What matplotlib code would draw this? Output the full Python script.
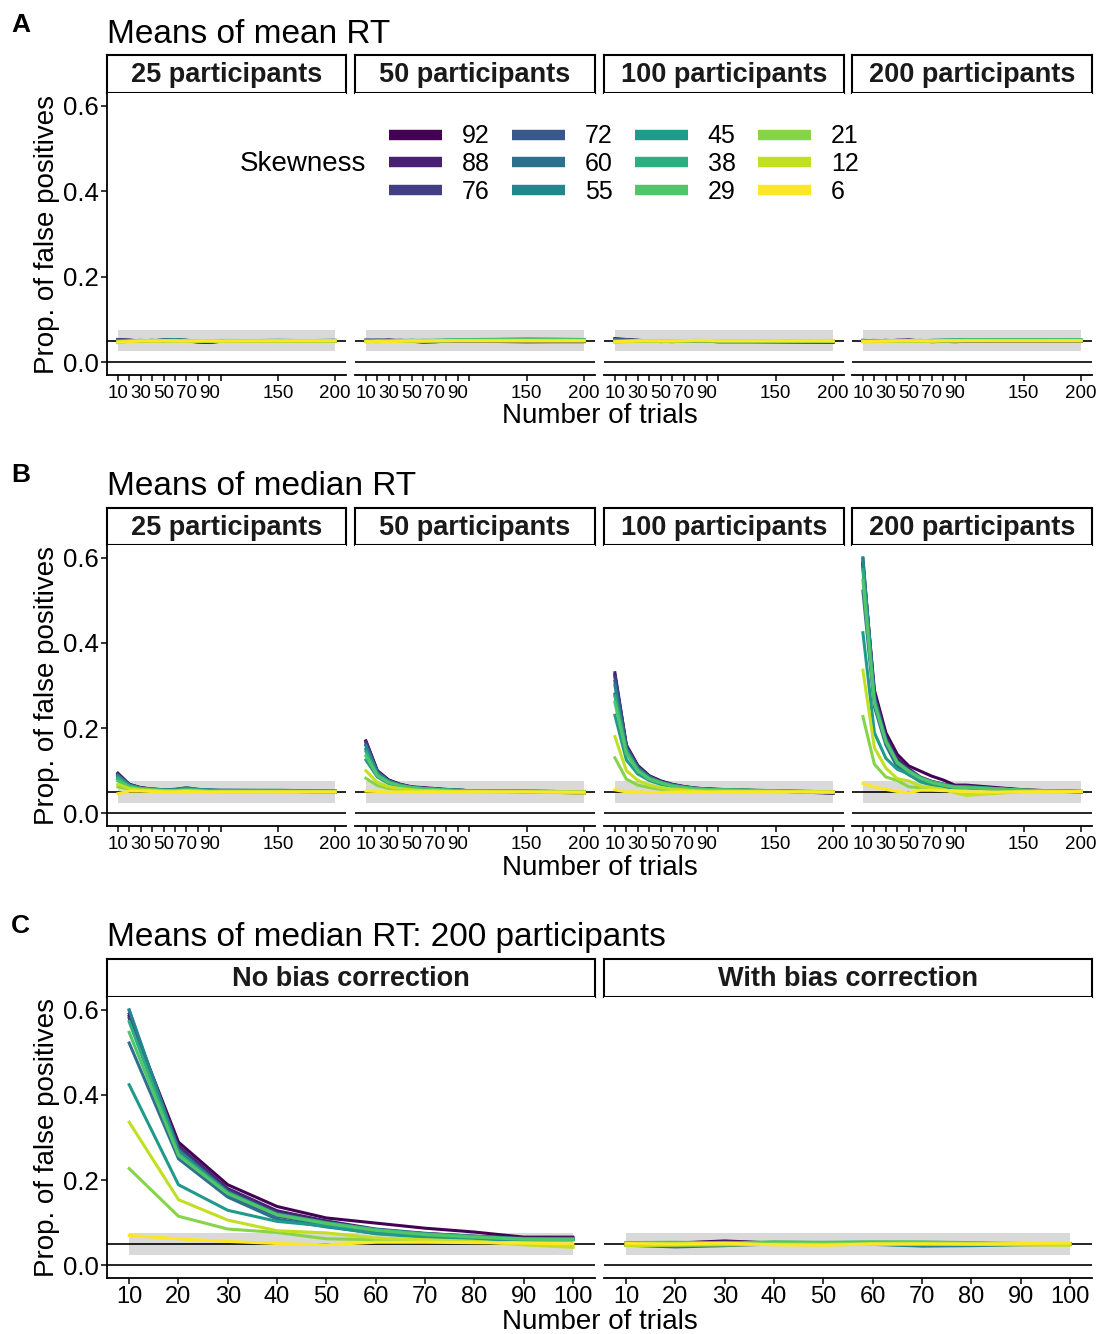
import numpy as np
import matplotlib.pyplot as plt
from matplotlib.lines import Line2D
from matplotlib.patches import Rectangle

plt.rcParams['font.family'] = ['Liberation Sans', 'DejaVu Sans']

W, H = 1101, 1334

skewness = [92, 88, 76, 72, 60, 55, 45, 38, 29, 21, 12, 6]
trials = [10, 20, 30, 40, 50, 60, 70, 80, 90, 100, 150, 200]
trials_c = [10, 20, 30, 40, 50, 60, 70, 80, 90, 100]
participants = [25, 50, 100, 200]

# A: means of mean RT, one row per skewness level
mean_25 = [
    [.053, .051, .049, .050, .052, .052, .050, .047, .046, .049, .050, .050],
    [.052, .050, .050, .049, .051, .052, .051, .048, .047, .049, .050, .050],
    [.053, .052, .049, .050, .051, .052, .050, .049, .048, .050, .050, .051],
    [.050, .051, .050, .051, .050, .053, .051, .049, .049, .050, .050, .050],
    [.049, .050, .051, .050, .052, .052, .050, .050, .049, .050, .051, .050],
    [.051, .050, .049, .050, .051, .053, .051, .049, .048, .049, .050, .051],
    [.050, .049, .050, .051, .050, .052, .051, .050, .050, .050, .051, .050],
    [.048, .050, .051, .050, .051, .051, .050, .050, .050, .050, .050, .051],
    [.049, .050, .050, .051, .050, .050, .051, .050, .050, .051, .050, .050],
    [.046, .049, .050, .050, .049, .050, .050, .050, .049, .050, .050, .049],
    [.047, .049, .049, .050, .050, .049, .050, .049, .050, .050, .049, .050],
    [.047, .048, .050, .049, .050, .050, .049, .050, .050, .049, .050, .050],
]
mean_50 = [
    [.050, .051, .052, .050, .049, .047, .048, .049, .050, .049, .048, .048],
    [.051, .050, .051, .050, .049, .048, .048, .049, .049, .049, .048, .049],
    [.050, .050, .051, .051, .050, .048, .049, .049, .050, .049, .049, .049],
    [.052, .051, .050, .051, .050, .049, .049, .050, .050, .050, .050, .050],
    [.051, .052, .050, .050, .051, .050, .049, .050, .051, .051, .052, .051],
    [.050, .051, .051, .050, .050, .050, .050, .051, .051, .052, .053, .052],
    [.049, .050, .050, .051, .051, .050, .051, .051, .052, .052, .054, .053],
    [.050, .049, .050, .050, .051, .051, .051, .052, .052, .053, .054, .053],
    [.049, .050, .049, .050, .050, .051, .051, .051, .052, .052, .053, .052],
    [.048, .049, .050, .049, .050, .050, .050, .050, .051, .051, .051, .051],
    [.049, .048, .049, .050, .049, .050, .050, .050, .050, .050, .050, .050],
    [.048, .049, .048, .049, .050, .049, .050, .050, .050, .050, .050, .050],
]
mean_100 = [
    [.055, .053, .051, .050, .049, .050, .050, .049, .049, .048, .048, .047],
    [.054, .052, .051, .050, .050, .049, .050, .049, .049, .048, .048, .047],
    [.053, .052, .050, .050, .049, .050, .049, .049, .049, .049, .048, .048],
    [.052, .051, .051, .049, .050, .049, .049, .050, .049, .049, .048, .048],
    [.051, .052, .050, .050, .049, .048, .050, .050, .049, .049, .049, .048],
    [.052, .050, .051, .049, .050, .049, .049, .050, .050, .049, .049, .049],
    [.050, .051, .050, .050, .048, .050, .049, .050, .050, .050, .049, .049],
    [.051, .050, .049, .050, .049, .049, .050, .051, .050, .050, .049, .049],
    [.049, .050, .050, .049, .050, .049, .050, .050, .050, .050, .050, .049],
    [.048, .049, .050, .049, .049, .050, .050, .050, .050, .050, .050, .050],
    [.047, .048, .049, .050, .049, .049, .050, .050, .050, .050, .050, .050],
    [.048, .049, .050, .050, .050, .050, .050, .051, .051, .050, .050, .050],
]
mean_200 = [
    [.050, .049, .050, .051, .052, .050, .048, .049, .048, .049, .049, .049],
    [.051, .050, .050, .051, .051, .050, .049, .049, .049, .049, .049, .049],
    [.050, .050, .051, .050, .051, .050, .049, .050, .049, .049, .050, .049],
    [.049, .050, .050, .051, .050, .051, .049, .049, .050, .050, .050, .050],
    [.050, .051, .049, .050, .051, .050, .050, .050, .050, .051, .051, .050],
    [.051, .050, .050, .049, .050, .050, .050, .051, .051, .052, .052, .051],
    [.050, .050, .051, .050, .049, .050, .051, .051, .052, .052, .053, .052],
    [.049, .050, .050, .050, .050, .049, .051, .052, .052, .053, .053, .052],
    [.050, .049, .050, .049, .050, .050, .050, .051, .051, .052, .052, .052],
    [.048, .049, .049, .050, .049, .050, .050, .050, .050, .051, .051, .051],
    [.049, .048, .050, .049, .050, .049, .050, .050, .050, .050, .050, .050],
    [.048, .049, .049, .050, .050, .050, .049, .050, .050, .050, .050, .050],
]

# B: means of median RT
median_25 = [
    [.094, .068, .060, .057, .055, .054, .056, .054, .053, .053, .052, .049],
    [.092, .067, .060, .056, .055, .055, .057, .055, .053, .053, .052, .050],
    [.090, .066, .059, .056, .054, .055, .058, .055, .054, .052, .052, .049],
    [.088, .066, .059, .056, .055, .056, .059, .056, .054, .053, .053, .050],
    [.086, .065, .058, .056, .055, .056, .060, .056, .055, .054, .053, .051],
    [.089, .066, .059, .057, .055, .055, .058, .056, .054, .054, .054, .052],
    [.080, .063, .058, .055, .054, .054, .057, .055, .054, .053, .053, .052],
    [.083, .064, .058, .056, .054, .053, .056, .054, .053, .053, .052, .052],
    [.076, .062, .057, .055, .053, .053, .055, .054, .052, .052, .052, .051],
    [.062, .057, .054, .053, .052, .051, .053, .052, .051, .051, .051, .050],
    [.068, .058, .055, .054, .052, .052, .053, .052, .051, .050, .050, .050],
    [.046, .052, .052, .051, .050, .050, .051, .050, .049, .050, .050, .050],
]
median_50 = [
    [.170, .100, .078, .068, .062, .060, .058, .056, .054, .053, .050, .048],
    [.168, .098, .077, .067, .061, .059, .057, .055, .054, .053, .050, .048],
    [.165, .097, .076, .067, .061, .059, .057, .055, .054, .053, .051, .049],
    [.160, .095, .075, .066, .061, .058, .056, .055, .054, .053, .051, .049],
    [.150, .092, .074, .066, .060, .058, .056, .055, .054, .053, .051, .050],
    [.158, .095, .075, .066, .061, .058, .057, .055, .054, .053, .052, .050],
    [.125, .085, .070, .063, .059, .057, .055, .054, .053, .053, .052, .050],
    [.145, .090, .073, .065, .060, .058, .056, .055, .054, .053, .052, .050],
    [.135, .088, .072, .064, .060, .057, .056, .054, .053, .053, .052, .050],
    [.082, .065, .058, .055, .053, .052, .052, .051, .051, .051, .050, .049],
    [.100, .072, .062, .058, .055, .053, .053, .052, .051, .051, .050, .047],
    [.052, .051, .050, .050, .050, .050, .050, .050, .050, .050, .050, .050],
]
median_100 = [
    [.325, .160, .112, .088, .076, .068, .063, .059, .057, .056, .052, .047],
    [.330, .158, .110, .087, .075, .067, .062, .059, .057, .056, .052, .048],
    [.320, .156, .108, .086, .074, .067, .062, .058, .057, .055, .052, .048],
    [.310, .152, .106, .085, .073, .066, .062, .058, .056, .055, .052, .048],
    [.280, .145, .102, .082, .072, .065, .061, .058, .056, .055, .052, .049],
    [.300, .150, .105, .084, .073, .066, .061, .058, .056, .055, .053, .049],
    [.230, .125, .092, .077, .068, .062, .059, .057, .055, .054, .052, .050],
    [.275, .145, .102, .082, .072, .065, .061, .058, .056, .055, .053, .050],
    [.260, .140, .099, .080, .071, .064, .060, .057, .056, .055, .053, .050],
    [.130, .080, .066, .060, .056, .054, .053, .052, .051, .051, .051, .050],
    [.180, .100, .077, .066, .060, .057, .055, .053, .052, .052, .051, .049],
    [.055, .050, .050, .049, .049, .050, .050, .050, .049, .050, .050, .050],
]
median_200 = [
    [.585, .289, .189, .138, .111, .099, .087, .078, .066, .066, .055, .050],
    [.590, .280, .180, .128, .104, .085, .075, .068, .064, .064, .054, .050],
    [.580, .275, .175, .122, .100, .082, .074, .068, .063, .062, .054, .051],
    [.598, .265, .165, .115, .095, .078, .070, .064, .061, .061, .054, .051],
    [.522, .250, .160, .108, .090, .075, .068, .062, .060, .060, .053, .051],
    [.600, .270, .172, .118, .096, .080, .072, .066, .062, .061, .054, .050],
    [.424, .189, .129, .103, .092, .074, .066, .062, .060, .060, .053, .051],
    [.572, .262, .170, .120, .100, .084, .074, .068, .062, .062, .054, .051],
    [.547, .258, .168, .118, .098, .082, .072, .066, .061, .060, .054, .052],
    [.227, .115, .085, .077, .062, .060, .058, .056, .050, .044, .052, .051],
    [.336, .154, .106, .081, .076, .064, .060, .056, .048, .042, .051, .050],
    [.070, .062, .056, .051, .048, .054, .054, .053, .052, .050, .050, .051],
]

# C: 200 participants, with bias correction
corrected_200 = [
    [.050, .052, .057, .052, .051, .052, .050, .050, .049, .050],
    [.051, .051, .055, .052, .052, .051, .050, .050, .050, .050],
    [.050, .052, .054, .053, .051, .051, .051, .050, .050, .050],
    [.052, .050, .053, .052, .053, .052, .050, .051, .050, .050],
    [.047, .043, .046, .050, .051, .050, .046, .047, .049, .050],
    [.048, .045, .048, .051, .050, .049, .045, .046, .048, .049],
    [.051, .052, .050, .053, .052, .053, .052, .051, .050, .050],
    [.052, .053, .051, .054, .053, .054, .053, .052, .050, .051],
    [.053, .054, .052, .055, .054, .055, .055, .053, .051, .051],
    [.049, .050, .049, .050, .050, .051, .052, .051, .050, .049],
    [.046, .047, .048, .049, .048, .049, .050, .049, .048, .047],
    [.051, .050, .052, .048, .047, .050, .050, .050, .051, .052],
]

colors = plt.cm.viridis(np.linspace(0, 1, len(skewness)))

fig = plt.figure(figsize=(W / 100, H / 100), dpi=100)


def box(x0, y0, x1, y1):
    # pixel box, origin top-left
    return fig.add_axes([x0 / W, 1 - y1 / H, (x1 - x0) / W, (y1 - y0) / H])


def facet(x0, x1, strip_top, strip_bot, bottom, label, xs, series, xlim,
          xticks, xlabels, xtick_size, xpad, first):
    st = box(x0, strip_top, x1, strip_bot)
    st.set_xticks([])
    st.set_yticks([])
    for s in st.spines.values():
        s.set_linewidth(1.5)
    st.text(0.5, 0.47, label, ha='center', va='center', fontsize=19.5,
            fontweight='bold', color='#1a1a1a', transform=st.transAxes)

    ax = box(x0, strip_bot, x1, bottom)
    ax.set_xlim(*xlim)
    ax.set_ylim(-0.03, 0.63)
    ax.add_patch(Rectangle((xs[0], 0.025), xs[-1] - xs[0], 0.05,
                           color='#d9d9d9', lw=0, zorder=1))
    ax.axhline(0, color='black', lw=1.2, zorder=2)
    ax.axhline(0.05, color='black', lw=1.2, zorder=2)
    for i, row in enumerate(series):
        ax.plot(xs, row, color=colors[i], lw=2.2, zorder=3,
                solid_joinstyle='round')
    ax.spines['top'].set_visible(False)
    ax.spines['right'].set_visible(False)
    ax.spines['bottom'].set_linewidth(1.3)
    ax.spines['left'].set_linewidth(1.3)
    ax.set_xticks(xticks)
    ax.set_xticklabels(xlabels, fontsize=xtick_size)
    ax.tick_params(axis='x', length=4, width=1.1, pad=xpad, colors='black')
    if first:
        ax.set_yticks([0, 0.2, 0.4, 0.6])
        ax.set_yticklabels(['0.0', '0.2', '0.4', '0.6'], fontsize=18.5)
        ax.tick_params(axis='y', length=4, width=1.1, pad=2)
    else:
        ax.spines['left'].set_visible(False)
        ax.set_yticks([])
    return ax


ab_ticks = trials
ab_labels = ['10', '', '30', '', '50', '', '70', '', '90', '', '150', '200']
four_x = [(107, 346), (355, 595), (604, 844), (852, 1092)]

rows = [
    ('A', 'Means of mean RT', [mean_25, mean_50, mean_100, mean_200],
     31.7, 43, 55, 93, 375, 416),
    ('B', 'Means of median RT', [median_25, median_50, median_100, median_200],
     481.7, 495, 508, 545, 826, 868),
]

for letter, title, tables, let_y, tit_y, s_top, s_bot, bot, xl_y in rows:
    for j, (x0, x1) in enumerate(four_x):
        facet(x0, x1, s_top, s_bot, bot, f'{participants[j]} participants',
              trials, tables[j], (0.5, 209.5), ab_ticks, ab_labels, 13.5, 3,
              j == 0)
    fig.text(11 / W, 1 - let_y / H, letter, fontsize=19, fontweight='bold',
             va='baseline', ha='left')
    fig.text(107 / W, 1 - tit_y / H, title, fontsize=24, va='baseline', ha='left')
    fig.text(47 / W, 1 - (s_bot + bot) / 2 / H, 'Prop. of false positives',
             fontsize=20, rotation=90, ha='center', va='center')
    fig.text(600 / W, 1 - xl_y / H, 'Number of trials', fontsize=20,
             ha='center', va='center')

# C
c_left = [row[:10] for row in median_200]
facet(107, 595, 959, 997, 1278, 'No bias correction', trials_c, c_left,
      (5.5, 104.5), trials_c, [str(t) for t in trials_c], 17, 1.5, True)
facet(604, 1092, 959, 997, 1278, 'With bias correction', trials_c, corrected_200,
      (5.5, 104.5), trials_c, [str(t) for t in trials_c], 17, 1.5, False)
fig.text(11 / W, 1 - 932.7 / H, 'C', fontsize=19, fontweight='bold',
         va='baseline', ha='left')
fig.text(107 / W, 1 - 946 / H, 'Means of median RT: 200 participants',
         fontsize=24, va='baseline', ha='left')
fig.text(47 / W, 1 - (997 + 1278) / 2 / H, 'Prop. of false positives',
         fontsize=20, rotation=90, ha='center', va='center')
fig.text(600 / W, 1 - 1322 / H, 'Number of trials', fontsize=20,
         ha='center', va='center')

# legend inside panel A
handles = [Line2D([], [], color=colors[i], lw=7.5, solid_capstyle='butt')
           for i in range(len(skewness))]
fig.legend(handles, [str(s) for s in skewness], ncol=4, frameon=False,
           loc='center left', bbox_to_anchor=(389 / W, 1 - 164 / H),
           fontsize=18, handlelength=2.12, handletextpad=0.8,
           columnspacing=0.88, labelspacing=0.15, borderpad=0, borderaxespad=0)
fig.text(303 / W, 1 - 164 / H, 'Skewness', fontsize=20, ha='center', va='center')

fig.savefig('out.png', dpi=100)
